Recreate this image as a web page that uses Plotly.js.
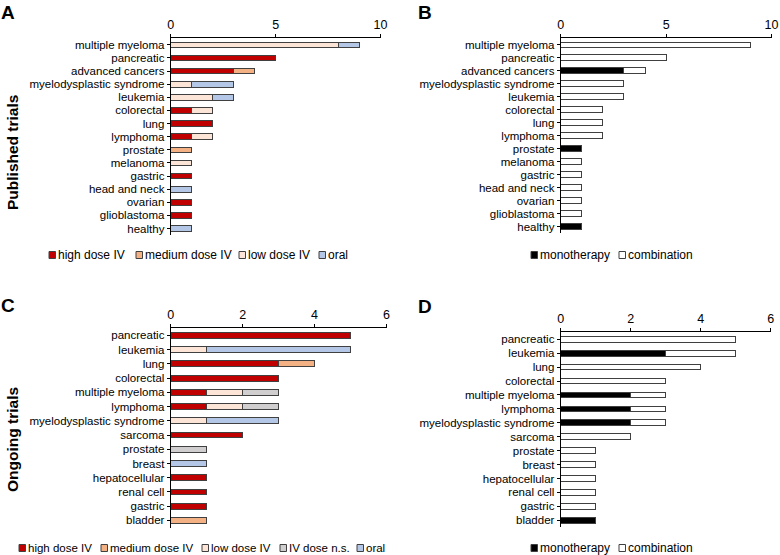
<!DOCTYPE html>
<html><head><meta charset="utf-8">
<script src="https://cdn.plot.ly/plotly-3.0.1.min.js"></script>
<style>html,body{margin:0;padding:0;background:#fff}#chart{width:780px;height:555px}</style>
</head><body><div id="chart"></div>
<script>
// ---------- DATA ----------
const catsPublished = ["multiple myeloma","pancreatic","advanced cancers","myelodysplastic syndrome","leukemia","colorectal","lung","lymphoma","prostate","melanoma","gastric","head and neck","ovarian","glioblastoma","healthy"];
const pubHighIV   = [0,5,3,0,0,1,2,1,0,0,1,0,1,1,0];
const pubMediumIV = [0,0,1,0,0,0,0,0,1,0,0,0,0,0,0];
const pubLowIV    = [8,0,0,1,2,1,0,1,0,1,0,0,0,0,0];
const pubOral     = [1,0,0,2,1,0,0,0,0,0,0,1,0,0,1];
const pubMono     = [0,0,3,0,0,0,0,0,1,0,0,0,0,0,1];
const pubCombo    = [9,5,1,3,3,2,2,2,0,1,1,1,1,1,0];

const catsOngoing = ["pancreatic","leukemia","lung","colorectal","multiple myeloma","lymphoma","myelodysplastic syndrome","sarcoma","prostate","breast","hepatocellular","renal cell","gastric","bladder"];
const ongHighIV   = [5,0,3,3,1,1,0,2,0,0,1,1,1,0];
const ongMediumIV = [0,0,1,0,0,0,0,0,0,0,0,0,0,1];
const ongLowIV    = [0,1,0,0,1,1,1,0,0,0,0,0,0,0];
const ongIVns     = [0,0,0,0,1,1,0,0,1,0,0,0,0,0];
const ongOral     = [0,4,0,0,0,0,2,0,0,1,0,0,0,0];
const ongMono     = [0,3,0,0,2,2,2,0,0,0,0,0,0,1];
const ongCombo    = [5,2,4,3,1,1,1,2,1,1,1,1,1,0];

const xTicksPublished = [0,5,10];
const xTicksOngoing = [0,2,4,6];

// ---------- STYLE ----------
const C_HIGH = "#C00000", C_MED = "#F4B183", C_LOW = "#FCE4D6", C_NS = "#D0CECE", C_ORAL = "#B4C7E7";
const C_MONO = "#000000", C_COMBO = "#FFFFFF";
const OUT = "#404040";
const FONT = "Liberation Sans, Arial, sans-serif";

function bar(cats, vals, color, xa, ya, w) {
  return {
    type: "bar", orientation: "h",
    y: cats, x: vals.map(v => v === 0 ? null : v),
    xaxis: xa, yaxis: ya, width: w,
    marker: {color: color, line: {color: OUT, width: 1}},
    showlegend: false, hoverinfo: "x+y"
  };
}
const wP = 0.43, wO = 0.41;
const data = [
  bar(catsPublished, pubHighIV, C_HIGH, "x", "y", wP),
  bar(catsPublished, pubMediumIV, C_MED, "x", "y", wP),
  bar(catsPublished, pubLowIV, C_LOW, "x", "y", wP),
  bar(catsPublished, pubOral, C_ORAL, "x", "y", wP),
  bar(catsPublished, pubMono, C_MONO, "x2", "y2", wP),
  bar(catsPublished, pubCombo, C_COMBO, "x2", "y2", wP),
  bar(catsOngoing, ongHighIV, C_HIGH, "x3", "y3", wO),
  bar(catsOngoing, ongMediumIV, C_MED, "x3", "y3", wO),
  bar(catsOngoing, ongLowIV, C_LOW, "x3", "y3", wO),
  bar(catsOngoing, ongIVns, C_NS, "x3", "y3", wO),
  bar(catsOngoing, ongOral, C_ORAL, "x3", "y3", wO),
  bar(catsOngoing, ongMono, C_MONO, "x4", "y4", wO),
  bar(catsOngoing, ongCombo, C_COMBO, "x4", "y4", wO)
];

const W = 780, H = 555;
const px = x => x / W, py = y => 1 - y / H;

function xax(domain, range, ticks, anchor) {
  return {
    domain: domain, range: range, tickmode: "array", tickvals: ticks, ticktext: ticks.map(String),
    side: "top", anchor: anchor, showline: true, linecolor: "#000", linewidth: 1,
    ticks: "outside", ticklen: 3, tickcolor: "#000", showgrid: false, zeroline: false,
    tickfont: {family: FONT, size: 12.5, color: "#000"}, fixedrange: true
  };
}
function yax(domain, cats, anchor) {
  return {
    domain: domain, type: "category", categoryorder: "array", categoryarray: cats,
    tickmode: "array", tickvals: cats, ticktext: cats,
    range: [cats.length - 0.5, -0.5], anchor: anchor,
    showline: true, linecolor: "#000", linewidth: 1,
    ticks: "outside", ticklen: 3, tickcolor: "#000", showgrid: false, zeroline: false,
    tickfont: {family: FONT, size: 11.5, color: "#000"}, fixedrange: true
  };
}

// legend swatches and labels (drawn as shapes + annotations)
const shapes = [], annotations = [];
function legendItem(sx, y, color, label, fs) {
  shapes.push({type: "rect", xref: "paper", yref: "paper",
    x0: px(sx), x1: px(sx + 6.5), y0: py(y + 3.5), y1: py(y - 3.5),
    fillcolor: color, line: {color: OUT, width: 1}});
  annotations.push({xref: "paper", yref: "paper", x: px(sx + 7), y: py(y),
    xanchor: "left", yanchor: "middle", showarrow: false, text: label,
    font: {family: FONT, size: fs || 12, color: "#000"}});
}
legendItem(49, 255, C_HIGH, "high dose IV");
legendItem(136, 255, C_MED, "medium dose IV");
legendItem(239, 255, C_LOW, "low dose IV");
legendItem(319, 255, C_ORAL, "oral");
legendItem(531, 255, C_MONO, "monotherapy");
legendItem(619, 255, C_COMBO, "combination");
legendItem(19, 548, C_HIGH, "high dose IV", 11.5);
legendItem(101, 548, C_MED, "medium dose IV", 11.5);
legendItem(202, 548, C_LOW, "low dose IV", 11.5);
legendItem(280, 548, C_NS, "IV dose n.s.", 11.5);
legendItem(357, 548, C_ORAL, "oral", 11.5);
legendItem(531, 548, C_MONO, "monotherapy");
legendItem(619, 548, C_COMBO, "combination");

function panelLabel(x, y, t) {
  annotations.push({xref: "paper", yref: "paper", x: px(x), y: py(y), xanchor: "left", yanchor: "middle",
    showarrow: false, text: "<b>" + t + "</b>", font: {family: FONT, size: 19, color: "#000"}});
}
panelLabel(-1, 12, "A");
panelLabel(416, 12, "B");
panelLabel(-1, 305, "C");
panelLabel(416, 306, "D");
function sideTitle(y, t) {
  annotations.push({xref: "paper", yref: "paper", x: px(12), y: py(y), xanchor: "center", yanchor: "middle",
    textangle: -90, showarrow: false, text: "<b>" + t + "</b>", font: {family: FONT, size: 15.5, color: "#000"}});
}
sideTitle(153, "Published trials");
sideTitle(440, "Ongoing trials");

const layout = {
  width: W, height: H, margin: {l: 0, r: 0, t: 0, b: 0},
  paper_bgcolor: "#fff", plot_bgcolor: "#fff",
  barmode: "stack", showlegend: false,
  font: {family: FONT, color: "#000"},
  xaxis:  xax([px(170.7), px(380.5)], [0, 10], xTicksPublished, "y"),
  yaxis:  yax([py(235.1), py(38.3)], catsPublished, "x"),
  xaxis2: xax([px(560.7), px(771.5)], [0, 10], xTicksPublished, "y2"),
  yaxis2: yax([py(233.0), py(38.3)], catsPublished, "x2"),
  xaxis3: xax([px(170.7), px(386.5)], [0, 6], xTicksOngoing, "y3"),
  yaxis3: yax([py(527.5), py(328.3)], catsOngoing, "x3"),
  xaxis4: xax([px(560.7), px(770.7)], [0, 6], xTicksOngoing, "y4"),
  yaxis4: yax([py(527.2), py(332.3)], catsOngoing, "x4"),
  shapes: shapes, annotations: annotations
};
Plotly.newPlot("chart", data, layout, {staticPlot: true, displayModeBar: false});
</script></body></html>
